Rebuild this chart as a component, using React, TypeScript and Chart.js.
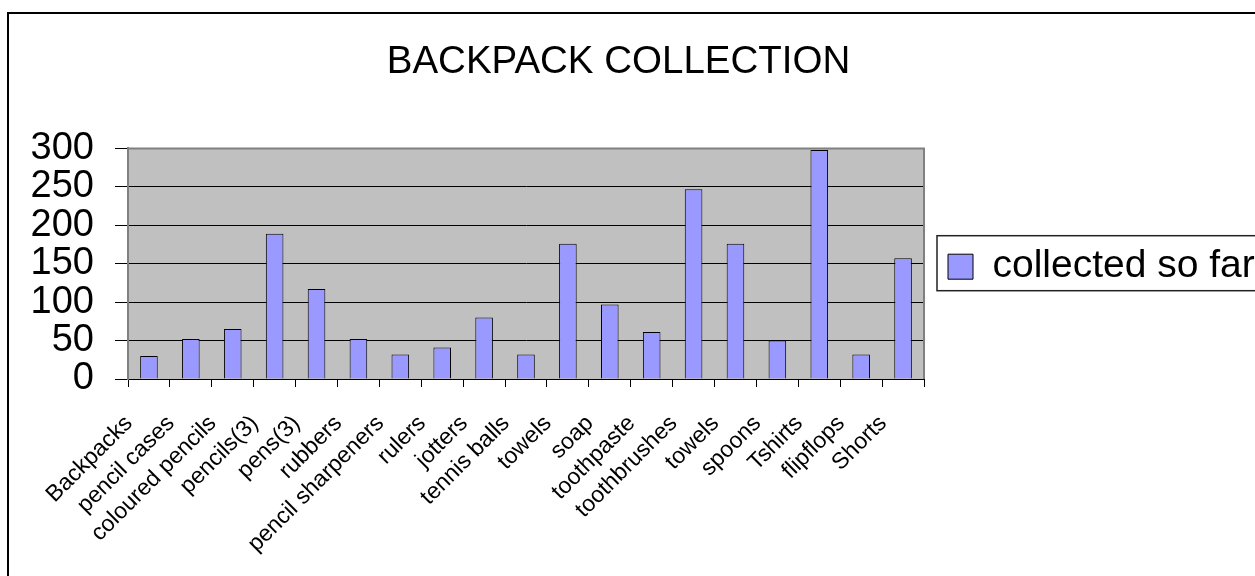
import React, { useEffect, useRef } from "react";
import { Chart, registerables } from "chart.js";

Chart.register(...registerables);

const categories = [
  "Backpacks", "pencil cases", "coloured pencils", "pencils(3)", "pens(3)", "rubbers",
  "pencil sharpeners", "rulers", "jotters", "tennis balls", "towels", "soap",
  "toothpaste", "toothbrushes", "towels", "spoons", "Tshirts", "flipflops", "Shorts",
];
const collectedSoFar = [30, 52, 65, 189, 117, 52, 32, 41, 80, 32, 176, 97, 61, 247, 176, 50, 298, 32, 157];
const seriesName = "collected so far";
const chartTitle = "BACKPACK COLLECTION";
const yMin = 0;
const yMax = 300;
const yStep = 50;

const CW = 1300;
const CH = 620;
const PAD_LEFT = -20;
const LEGEND_W = 333;
const PAD_RIGHT = 43;
const FONT = "'Liberation Sans', Arial, sans-serif";

export default function App() {
  const ref = useRef<HTMLCanvasElement | null>(null);

  useEffect(() => {
    if (!ref.current) return;
    const decor = {
      id: "decor",
      beforeDraw(chart: any) {
        const { ctx, chartArea } = chart;
        ctx.save();
        ctx.fillStyle = "#C0C0C0";
        ctx.fillRect(chartArea.left, chartArea.top, chartArea.right - chartArea.left, chartArea.bottom - chartArea.top);
        ctx.strokeStyle = "#000";
        ctx.lineWidth = 2;
        ctx.strokeRect(8, 13, 3000, 3000);
        ctx.restore();
      },
      afterDraw(chart: any) {
        const { ctx, chartArea } = chart;
        ctx.save();
        ctx.strokeStyle = "#808080";
        ctx.lineWidth = 2;
        ctx.beginPath();
        ctx.moveTo(chartArea.left, chartArea.top);
        ctx.lineTo(chartArea.right, chartArea.top);
        ctx.lineTo(chartArea.right, chartArea.bottom);
        ctx.stroke();
        const hb = chart.legend && chart.legend.legendHitBoxes && chart.legend.legendHitBoxes[0];
        if (hb) {
          const cy = hb.top + hb.height / 2;
          ctx.strokeStyle = "#222";
          ctx.lineWidth = 1.5;
          ctx.strokeRect(hb.left - 11, cy - 31, 3000, 55);
        }
        ctx.restore();
      },
    };

    const chart = new Chart(ref.current, {
      type: "bar",
      data: {
        labels: categories,
        datasets: [
          {
            label: seriesName,
            data: collectedSoFar,
            backgroundColor: "#9999FF",
            borderColor: "#000",
            borderWidth: 1,
            categoryPercentage: 1,
            barPercentage: 0.42,
          },
        ],
      },
      options: {
        responsive: false,
        animation: false,
        devicePixelRatio: 1,
        layout: { padding: { top: 13, left: PAD_LEFT, right: PAD_RIGHT, bottom: 0 } },
        plugins: {
          title: {
            display: true,
            text: chartTitle,
            color: "#000",
            font: { family: FONT, size: 38.5, weight: "normal" },
            padding: { top: 26, bottom: 63.2 },
          },
          legend: {
            display: true,
            position: "right",
            fullSize: false,
            maxWidth: LEGEND_W,
            title: { display: true, text: " ", font: { size: 5 }, padding: 0 },
            labels: {
              color: "#000",
              font: { family: FONT, size: 39 },
              boxWidth: 25,
              boxHeight: 25,
              padding: 24,
            },
          },
          tooltip: { enabled: false },
        },
        scales: {
          x: {
            type: "category",
            offset: true,
            afterFit(scale: any) {
              scale.height = CH - 379;
            },
            grid: {
              display: true,
              offset: true,
              drawOnChartArea: false,
              tickLength: 8,
              tickColor: "#000",
            },
            border: { display: true, color: "#000", width: 1 },
            ticks: {
              autoSkip: false,
              maxRotation: 45,
              minRotation: 45,
              padding: 23,
              labelOffset: -20,
              color: "#000",
              font: { family: FONT, size: 23 },
            },
          },
          y: {
            min: yMin,
            max: yMax,
            afterFit(scale: any) {
              scale.width = 128 - PAD_LEFT;
            },
            grid: {
              color: (c: any) => (c.tick && c.tick.value === yMax ? "#808080" : "#000"),
              lineWidth: 1,
              tickLength: 13,
              tickColor: "#000",
            },
            border: { display: true, color: "#808080", width: 2 },
            ticks: {
              stepSize: yStep,
              autoSkip: false,
              padding: 21,
              color: "#000",
              font: { family: FONT, size: 38 },
            },
          },
        },
      },
      plugins: [decor],
    } as any);
    return () => chart.destroy();
  }, []);

  return (
    <div style={{ position: "fixed", left: 0, top: 0, width: 1255, height: 576, overflow: "hidden", background: "#fff" }}>
      <canvas ref={ref} width={CW} height={CH} style={{ width: CW, height: CH, display: "block" }} />
    </div>
  );
}
